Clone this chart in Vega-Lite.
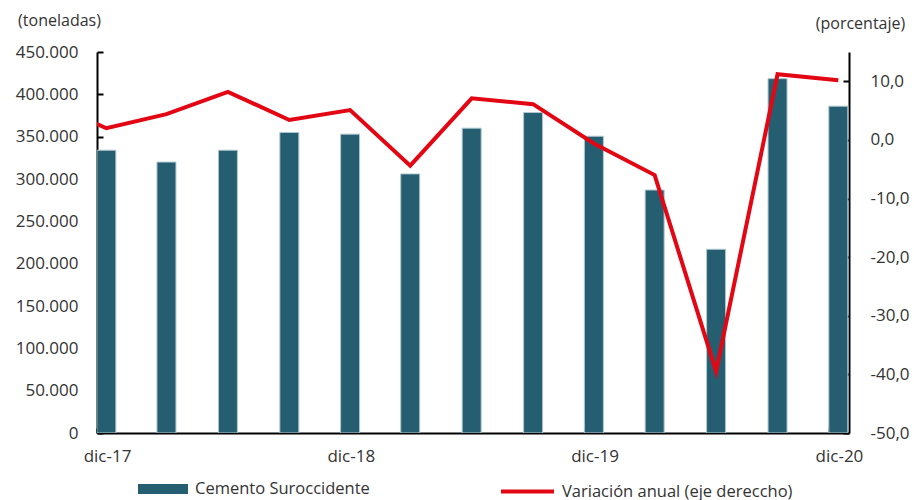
{
  "$schema": "https://vega.github.io/schema/vega-lite/v6.json",
  "width": 752,
  "height": 381,
  "autosize": "none",
  "padding": {"left": 97, "top": 52, "right": 65, "bottom": 67},
  "config": {
    "view": {"stroke": null},
    "font": "Open Sans",
    "locale": {
      "number": {"decimal": ",", "thousands": ".", "grouping": [3], "currency": ["$", ""], "minus": "-"}
    },
    "axis": {
      "grid": false,
      "domainColor": "#000000",
      "domainWidth": 2,
      "tickColor": "#000000",
      "tickWidth": 2,
      "labelColor": "#333333",
      "labelFontSize": 17,
      "labelFont": "Open Sans",
      "titleFont": "Open Sans",
      "titleFontWeight": "normal",
      "titleColor": "#333333",
      "titleFontSize": 16
    },
    "legend": {
      "labelFont": "Open Sans",
      "labelFontSize": 16.5,
      "labelColor": "#333333",
      "labelLimit": 0
    }
  },
  "data": {
    "values": [
      {"fecha": "2017-09-15", "cemento": null, "variacion": 6.7},
      {"fecha": "2017-12-15", "cemento": 334000, "variacion": 2.0},
      {"fecha": "2018-03-15", "cemento": 320000, "variacion": 4.4},
      {"fecha": "2018-06-15", "cemento": 334000, "variacion": 8.2},
      {"fecha": "2018-09-15", "cemento": 355000, "variacion": 3.4},
      {"fecha": "2018-12-15", "cemento": 353000, "variacion": 5.1},
      {"fecha": "2019-03-15", "cemento": 306000, "variacion": -4.4},
      {"fecha": "2019-06-15", "cemento": 360000, "variacion": 7.1},
      {"fecha": "2019-09-15", "cemento": 378500, "variacion": 6.1},
      {"fecha": "2019-12-15", "cemento": 350500, "variacion": -0.6},
      {"fecha": "2020-03-15", "cemento": 287000, "variacion": -6.0},
      {"fecha": "2020-06-15", "cemento": 217000, "variacion": -39.5},
      {"fecha": "2020-09-15", "cemento": 418500, "variacion": 11.2},
      {"fecha": "2020-12-15", "cemento": 386000, "variacion": 10.2}
    ]
  },
  "layer": [
    {
      "mark": {"type": "bar", "width": 19, "stroke": "#b3c7d0", "strokeWidth": 1, "clip": true},
      "encoding": {
        "x": {
          "field": "fecha",
          "type": "temporal",
          "scale": {
            "padding": 0,
            "nice": false,
            "domain": [
              {"year": 2017, "month": 12, "date": 1, "utc": true},
              {"year": 2020, "month": 12, "date": 31, "utc": true}
            ]
          },
          "axis": {
            "title": null,
            "values": [
              {"year": 2017, "month": 12, "date": 1, "utc": true},
              {"year": 2018, "month": 12, "date": 1, "utc": true},
              {"year": 2019, "month": 12, "date": 1, "utc": true},
              {"year": 2020, "month": 12, "date": 1, "utc": true}
            ],
            "labelExpr": "'dic-' + utcFormat(datum.value, '%y')",
            "tickSize": -5,
            "labelPadding": 20,
            "labelOffset": 10,
            "labelBaseline": "top",
            "labelAlign": "center"
          }
        },
        "y": {
          "field": "cemento",
          "type": "quantitative",
          "scale": {"domain": [0, 450000]},
          "axis": {
            "values": [0, 50000, 100000, 150000, 200000, 250000, 300000, 350000, 400000, 450000],
            "format": ",d",
            "tickSize": -6,
            "labelPadding": 25,
            "title": "(toneladas)",
            "titleAngle": 0,
            "titleX": -38,
            "titleY": -32,
            "titleAlign": "center",
            "titleBaseline": "middle"
          }
        },
        "fill": {
          "datum": "Cemento Suroccidente",
          "scale": {"range": ["#245e70"]},
          "legend": {
            "orient": "none",
            "legendX": 41,
            "legendY": 412,
            "title": null,
            "padding": 0,
            "symbolType": "M-1,-0.2H1V0.2H-1Z",
            "symbolSize": 2500,
            "symbolStrokeWidth": 0,
            "labelOffset": 7
          }
        }
      }
    },
    {
      "mark": {"type": "line", "clip": true, "strokeWidth": 4},
      "encoding": {
        "x": {"field": "fecha", "type": "temporal"},
        "y": {
          "field": "variacion",
          "type": "quantitative",
          "scale": {"domain": [-50, 15]},
          "axis": {
            "orient": "right",
            "values": [-50, -40, -30, -20, -10, 0, 10],
            "format": ",.1f",
            "tickSize": -6,
            "labelPadding": 27,
            "title": "(porcentaje)",
            "titleAngle": 0,
            "titleX": 11,
            "titleY": -29,
            "titleAlign": "center",
            "titleBaseline": "middle"
          }
        },
        "stroke": {
          "datum": "Variación anual (eje dereccho)",
          "scale": {"range": ["#e30613"]},
          "legend": {
            "orient": "none",
            "legendX": 402,
            "legendY": 411,
            "title": null,
            "padding": 0,
            "symbolType": "stroke",
            "symbolSize": 2809,
            "symbolStrokeWidth": 4,
            "labelOffset": 6
          }
        }
      }
    }
  ],
  "resolve": {"scale": {"y": "independent"}}
}
